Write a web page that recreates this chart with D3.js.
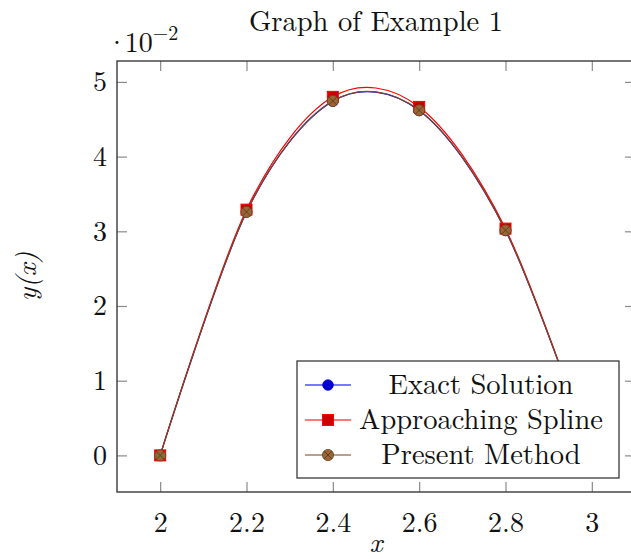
<!DOCTYPE html>
<html>
<head>
<meta charset="utf-8">
<script src="https://cdn.jsdelivr.net/npm/d3@7"></script>
</head>
<body style="margin:0; background:#fff">
<div id="chart"></div>
<script>
// data (y values in real units, axis shows them scaled by 10^-2)
var xs = [2, 2.2, 2.4, 2.6, 2.8, 3];
var exact = [0, 0.03258, 0.04743, 0.04618, 0.03012, 0];
var spline = [0, 0.03290, 0.04800, 0.04665, 0.03036, 0];
var present = [0, 0.03259, 0.04745, 0.04620, 0.03014, 0];
var xTicks = [2, 2.2, 2.4, 2.6, 2.8, 3];
var yTicks = [0, 0.01, 0.02, 0.03, 0.04, 0.05];
var seriesNames = ["Exact Solution", "Approaching Spline", "Present Method"];

var FONT = "'Latin Modern Roman', 'Liberation Serif', serif";
var W = 631, H = 559;
var margin = { top: 61, right: -4, bottom: 67, left: 117 },
    width = W - margin.left - margin.right,
    height = H - margin.top - margin.bottom;

var x = d3.scaleLinear().domain([1.9, 3.1]).range([0, width]);
var y = d3.scaleLinear().domain([-0.0049, 0.0528]).range([height, 0]);

var svg = d3.select("#chart").append("svg")
    .attr("width", W)
    .attr("height", H);

var chart = svg.append("g")
    .attr("transform", "translate(" + margin.left + "," + margin.top + ")");

// ticks on all four sides, pointing inward
function styleAxis(g) {
    g.select(".domain").remove();
    g.selectAll(".tick line").attr("stroke", "#8a8a8a").attr("stroke-width", 1.2);
    g.selectAll(".tick text")
        .style("font-family", FONT)
        .style("font-size", "28px")
        .attr("fill", "#111");
}

chart.append("g")
    .attr("transform", "translate(0," + height + ")")
    .call(d3.axisBottom(x).tickValues(xTicks).tickSize(-10).tickPadding(20)
        .tickFormat(function (d) { return d3.format("~g")(d); }))
    .call(styleAxis);

chart.append("g")
    .call(d3.axisTop(x).tickValues(xTicks).tickSize(-10).tickFormat(""))
    .call(styleAxis);

chart.append("g")
    .call(d3.axisLeft(y).tickValues(yTicks).tickSize(-10).tickPadding(10)
        .tickFormat(function (d) { return Math.round(d * 100); }))
    .call(styleAxis);

chart.append("g")
    .attr("transform", "translate(" + width + ",0)")
    .call(d3.axisRight(y).tickValues(yTicks).tickSize(-10).tickFormat(""))
    .call(styleAxis);

// frame
chart.append("rect")
    .attr("width", width)
    .attr("height", height)
    .attr("fill", "none")
    .attr("stroke", "#3a3a3a")
    .attr("stroke-width", 1.4);

// lines
var line = d3.line()
    .x(function (d) { return x(d[0]); })
    .y(function (d) { return y(d[1]); })
    .curve(d3.curveCardinal.tension(0.05));

var series = [
    { name: seriesNames[0], values: exact, color: "#0000ff", mark: "circle", fill: "#0000cc", stroke: "#0000cc" },
    { name: seriesNames[1], values: spline, color: "#ff0000", mark: "square", fill: "#cc0000", stroke: "#ff0000" },
    { name: seriesNames[2], values: present, color: "#7b4a22", mark: "otimes", fill: "#9a6534", stroke: "#6b4220" }
];

function drawMark(g, s, cx, cy) {
    if (s.mark === "circle") {
        g.append("circle").attr("cx", cx).attr("cy", cy).attr("r", 5.3)
            .attr("fill", s.fill).attr("stroke", s.stroke).attr("stroke-width", 0.8);
    } else if (s.mark === "square") {
        g.append("rect").attr("x", cx - 5.5).attr("y", cy - 5.5)
            .attr("width", 11).attr("height", 11)
            .attr("fill", s.fill).attr("stroke", s.stroke).attr("stroke-width", 1);
    } else {
        g.append("circle").attr("cx", cx).attr("cy", cy).attr("r", 5.6)
            .attr("fill", s.fill).attr("stroke", s.stroke).attr("stroke-width", 0.8);
        var k = 5.6 * Math.SQRT1_2;
        g.append("path")
            .attr("d", "M" + (cx - k) + "," + (cy - k) + "L" + (cx + k) + "," + (cy + k) +
                "M" + (cx - k) + "," + (cy + k) + "L" + (cx + k) + "," + (cy - k))
            .attr("stroke", "#5a3519").attr("stroke-width", 0.8).attr("fill", "none");
    }
}

series.forEach(function (s) {
    var pts = xs.map(function (v, i) { return [v, s.values[i]]; });
    chart.append("path")
        .datum(pts)
        .attr("fill", "none")
        .attr("stroke", s.color)
        .attr("stroke-width", 1.2)
        .attr("d", line);
});

series.forEach(function (s) {
    var g = chart.append("g");
    xs.forEach(function (v, i) {
        drawMark(g, s, x(v), y(s.values[i]));
    });
});

// legend
var legend = svg.append("g").attr("transform", "translate(297,361)");
legend.append("rect")
    .attr("width", 322)
    .attr("height", 117)
    .attr("fill", "#fff")
    .attr("stroke", "#3a3a3a")
    .attr("stroke-width", 1.3);

series.forEach(function (s, i) {
    var cy = 24 + i * 35;
    legend.append("line")
        .attr("x1", 8).attr("x2", 54)
        .attr("y1", cy).attr("y2", cy)
        .attr("stroke", s.color)
        .attr("stroke-opacity", 0.7)
        .attr("stroke-width", 1.4);
    drawMark(legend, s, 31, cy);
    legend.append("text")
        .attr("x", 184)
        .attr("y", cy + 9)
        .attr("text-anchor", "middle")
        .style("font-family", FONT)
        .style("font-size", "28.5px")
        .attr("fill", "#111")
        .text(s.name);
});

// titles and labels
svg.append("text")
    .attr("x", margin.left + width / 2)
    .attr("y", 31)
    .attr("text-anchor", "middle")
    .style("font-family", FONT)
    .style("font-size", "28.5px")
    .attr("fill", "#111")
    .text("Graph of Example 1");

var scaleLabel = svg.append("text")
    .attr("x", 106)
    .attr("y", 52)
    .style("font-family", FONT)
    .style("font-size", "28px")
    .attr("fill", "#111");
scaleLabel.append("tspan").text("\u00b7");
scaleLabel.append("tspan").attr("dx", -3).text("10");
scaleLabel.append("tspan")
    .attr("dy", -12)
    .style("font-size", "20px")
    .text("\u22122");

svg.append("text")
    .attr("x", margin.left + width / 2)
    .attr("y", 552)
    .attr("text-anchor", "middle")
    .style("font-family", FONT)
    .style("font-size", "28px")
    .style("font-style", "italic")
    .attr("fill", "#111")
    .text("x");

svg.append("text")
    .attr("transform", "translate(28," + (margin.top + height / 2) + ") rotate(-90)")
    .attr("text-anchor", "middle")
    .attr("dy", "0.3em")
    .style("font-family", FONT)
    .style("font-size", "28px")
    .style("font-style", "italic")
    .attr("fill", "#111")
    .text("y(x)");
</script>
</body>
</html>
